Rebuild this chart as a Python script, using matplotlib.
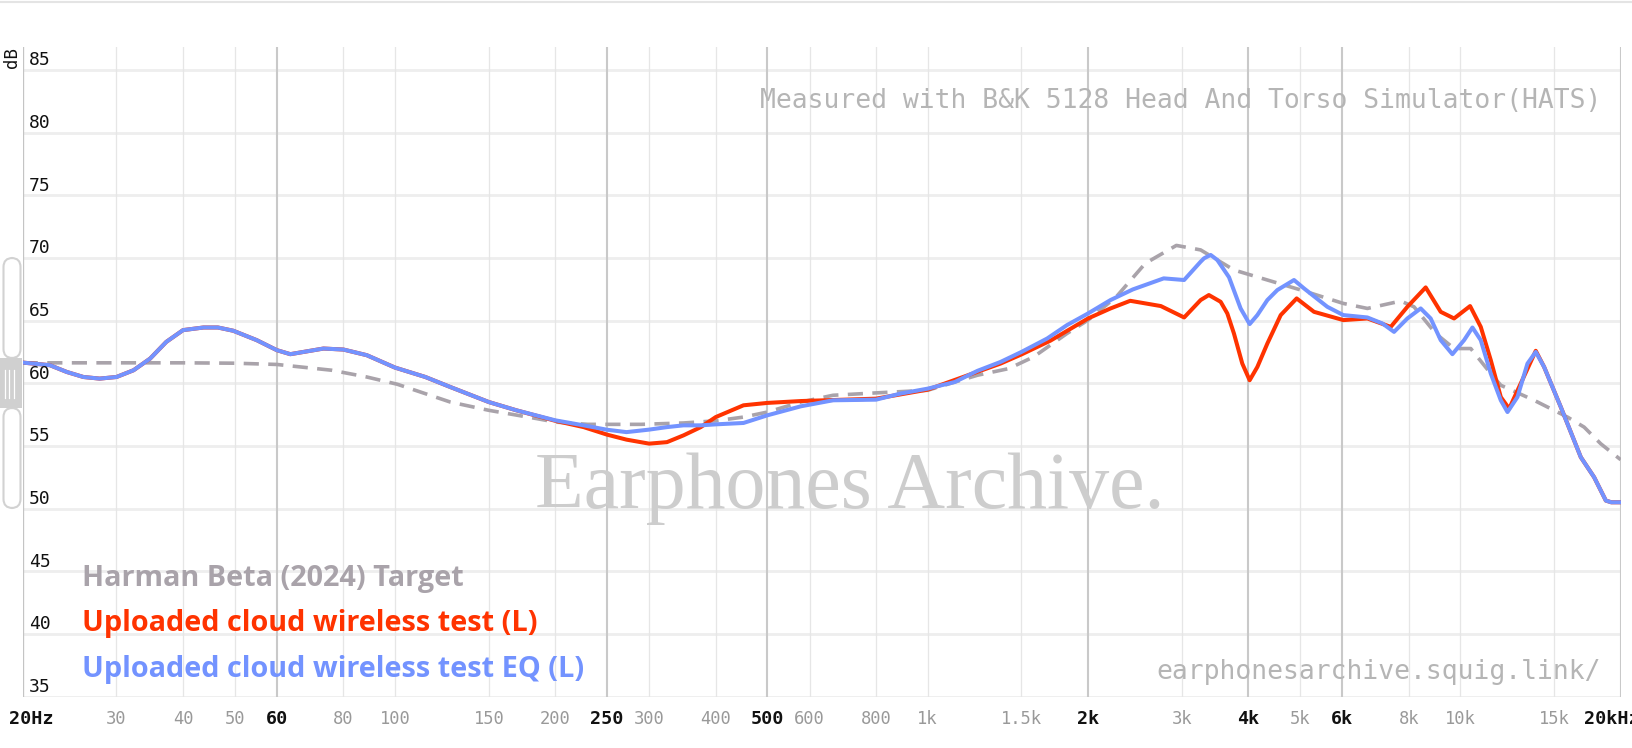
import matplotlib
matplotlib.use("Agg")
import matplotlib.pyplot as plt
import matplotlib.transforms as mtransforms
from matplotlib.patches import FancyBboxPatch, Rectangle
from matplotlib.lines import Line2D

W, H, DPI = 1633, 748, 100

# Harman Beta (2024) target
target_hz = [20, 30, 40, 50, 60, 76, 88.5, 101, 127, 150, 185, 200, 230, 290, 348, 400,
             451, 500, 578, 664, 800, 1000, 1240, 1420, 1580, 1826, 2000, 2260, 2562, 2930,
             3254, 3758, 4342, 5020, 6030, 6691, 7728, 8185, 8990, 9732, 10460, 11406,
             11910, 13754, 15888, 17075, 18348, 19726, 20000]
target_db = [61.63, 61.63, 61.63, 61.6, 61.5, 61.04, 60.5, 59.92, 58.5, 57.84, 57.17, 56.9,
             56.72, 56.72, 56.83, 57.0, 57.3, 57.7, 58.5, 59.04, 59.23, 59.44, 60.64, 61.17,
             62.1, 63.97, 65.04, 66.9, 69.57, 71.0, 70.64, 69.04, 68.24, 67.44, 66.37, 65.97,
             66.56, 66.1, 63.97, 62.77, 62.77, 60.77, 59.84, 58.64, 57.3, 56.5, 55.17, 54.1, 53.9]

# both measurements overlap below ~170 Hz
shared_hz = [20, 22.5, 24.2, 26, 27.9, 30, 32.3, 34.7, 37.2, 40, 43.7, 46.5, 49.7, 55, 60,
             63.6, 73.4, 80, 88.5, 100, 114, 127, 150, 169]
shared_db = [61.65, 61.44, 60.9, 60.5, 60.37, 60.5, 61.04, 61.97, 63.3, 64.24, 64.45, 64.45,
             64.19, 63.44, 62.64, 62.32, 62.77, 62.69, 62.24, 61.25, 60.5, 59.7, 58.5, 57.84]

# Uploaded cloud wireless test (L)
raw_hz = [200, 226, 250, 272, 300, 324, 348, 375, 400, 451, 500, 578, 800, 1000, 1370, 1500,
          1700, 2000, 2204, 2400, 2740, 3030, 3254, 3372, 3548, 3652, 3758, 3896, 4022, 4158,
          4342, 4600, 4928, 5312, 6030, 6691, 7402, 7953, 8608, 9186, 9732, 10430, 10922,
          11406, 11910, 12348, 12892, 13854, 14364, 15438, 16832, 17830, 18754, 19200, 20000]
raw_db = [57.0, 56.5, 55.9, 55.5, 55.18, 55.3, 55.84, 56.5, 57.3, 58.24, 58.43, 58.58, 58.77,
          59.49, 61.57, 62.3, 63.4, 65.17, 65.97, 66.58, 66.16, 65.25, 66.64, 67.04, 66.5,
          65.57, 63.97, 61.57, 60.24, 61.3, 63.17, 65.44, 66.77, 65.7, 65.04, 65.17, 64.5,
          66.1, 67.65, 65.7, 65.17, 66.16, 64.5, 61.84, 58.9, 57.97, 59.7, 62.59, 61.3, 58.1,
          54.1, 52.5, 50.64, 50.5, 50.5]

# Uploaded cloud wireless test EQ (L)
eq_hz = [200, 226, 250, 272, 300, 324, 348, 375, 400, 451, 500, 578, 664, 800, 888, 1000,
         1124, 1240, 1370, 1500, 1676, 1826, 2000, 2204, 2428, 2774, 3030, 3254, 3302, 3398,
         3497, 3679, 3868, 4022, 4158, 4342, 4534, 4872, 5087, 5627, 6030, 6691, 7140, 7508,
         7953, 8424, 8796, 9186, 9662, 10163, 10536, 10922, 11406, 11910, 12260, 12800,
         13366, 13854, 14364, 15438, 16832, 17830, 18754, 19200, 20000]
eq_db = [57.04, 56.64, 56.29, 56.1, 56.3, 56.5, 56.64, 56.64, 56.72, 56.83, 57.44, 58.16,
         58.64, 58.69, 59.17, 59.57, 60.1, 60.99, 61.7, 62.5, 63.57, 64.64, 65.57, 66.64,
         67.49, 68.37, 68.24, 69.7, 69.97, 70.24, 69.84, 68.46, 65.97, 64.72, 65.44, 66.64,
         67.44, 68.24, 67.57, 66.1, 65.44, 65.25, 64.77, 64.10, 65.17, 65.97, 65.17, 63.44,
         62.32, 63.44, 64.45, 63.44, 60.77, 58.64, 57.7, 58.9, 61.57, 62.5, 61.3, 58.1, 54.1,
         52.5, 50.64, 50.5, 50.5]

y_ticks = [35, 40, 45, 50, 55, 60, 65, 70, 75, 80, 85]
x_grid = [20, 30, 40, 50, 60, 80, 100, 150, 200, 250, 300, 400, 500, 600, 800, 1000, 1500,
          2000, 3000, 4000, 5000, 6000, 8000, 10000, 15000, 20000]
x_labels = ["20Hz", "30", "40", "50", "60", "80", "100", "150", "200", "250", "300", "400",
            "500", "600", "800", "1k", "1.5k", "2k", "3k", "4k", "5k", "6k", "8k", "10k",
            "15k", "20kHz"]
x_strong = [20, 60, 250, 500, 2000, 4000, 6000, 20000]

legend_names = ["Harman Beta (2024) Target", "Uploaded cloud wireless test (L)",
                "Uploaded cloud wireless test EQ (L)"]
c_target, c_raw, c_eq = "#a9a3aa", "#ff3300", "#7393ff"

fig = plt.figure(figsize=(W / DPI, H / DPI), dpi=DPI)
fig.patch.set_facecolor("white")

# plot area in pixels
left, right, top, bottom = 22.7, 1620.7, 47, 696.5
ax = fig.add_axes([left / W, 1 - bottom / H, (right - left) / W, (bottom - top) / H])
ax.set_xscale("log")
ax.set_xlim(20, 20000)
ax.set_ylim(35, 35 + (bottom - top) / 12.53)
ax.axis("off")

# pixel transform (origin top-left)
pix = mtransforms.Affine2D().scale(1 / W, -1 / H).translate(0, 1) + fig.transFigure

# grid
for v in y_ticks:
    ax.axhline(v, color="#eeeeee", lw=2.0, zorder=0.5)
for f in x_grid:
    if f in x_strong:
        ax.axvline(f, color="#c9c9c9", lw=1.5, zorder=0.6)
    else:
        ax.axvline(f, color="#e6e6e6", lw=0.9, zorder=0.6)

# watermark and captions
ax.text(535, 508, "Earphones Archive.", transform=pix, family="Liberation Serif",
        size=57.5, color="#cdcdcd", va="baseline", ha="left", zorder=1, clip_on=False)
ax.text(1601, 108, "Measured with B&K 5128 Head And Torso Simulator(HATS)", transform=pix,
        family="DejaVu Sans Mono", size=19, color="#b5b5b5", va="baseline", ha="right",
        zorder=1, clip_on=False)
ax.text(1601, 679, "earphonesarchive.squig.link/", transform=pix,
        family="DejaVu Sans Mono", size=19, color="#b5b5b5", va="baseline", ha="right",
        zorder=1, clip_on=False)

# curves
ax.plot(target_hz, target_db, color=c_target, lw=2.6, dashes=(4.2, 2.6), zorder=3)
ax.plot(shared_hz + raw_hz, shared_db + raw_db, color=c_raw, lw=2.9,
        solid_joinstyle="round", solid_capstyle="round", zorder=4)
ax.plot(shared_hz + eq_hz, shared_db + eq_db, color=c_eq, lw=2.9,
        solid_joinstyle="round", solid_capstyle="round", zorder=5)

# y tick labels (above their gridlines)
ylab_trans = mtransforms.offset_copy(
    mtransforms.blended_transform_factory(ax.transAxes, ax.transData),
    fig=fig, x=0, y=9.5, units="dots")
for v in y_ticks:
    ax.text((29 - left) / (right - left), v, str(v), transform=ylab_trans,
            family="DejaVu Sans Mono", size=13, color="#111111", va="center", ha="left",
            zorder=6, clip_on=False)

# x tick labels
for f, lbl in zip(x_grid, x_labels):
    dx = 8.6 if f == 20 else (-9.0 if f == 20000 else 0)
    tr = mtransforms.offset_copy(ax.get_xaxis_transform(), fig=fig, x=dx, y=-22.5, units="dots")
    strong = f in x_strong
    ax.text(f, 0, lbl, transform=tr, family="DejaVu Sans Mono",
            size=13.2 if strong else 12.3,
            weight="bold" if strong else "normal",
            color="#111111" if strong else "#999999", ha="center", va="center", clip_on=False)

# left axis line
ax.axvline(20, color="#c4c4c4", lw=1.6, zorder=0.7)

# dB label
fig.text(12.5 / W, 1 - 57.5 / H, "dB", family="DejaVu Sans Mono", size=12.5,
         color="#111111", rotation=90, ha="center", va="center")

# legend names
for i, (name, col) in enumerate(zip(legend_names, [c_target, c_raw, c_eq])):
    fig.text(82 / W, 1 - (586 + 45.4 * i) / H, name, family="Open Sans", weight="bold",
             size=20.8, color=col, ha="left", va="baseline")

# top border
fig.add_artist(Line2D([0, 1], [1 - 2 / H, 1 - 2 / H], color="#e4e4e4", lw=1.5))

# drag handle on the left edge
for y0, y1 in [(258, 358), (408, 508)]:
    fig.add_artist(FancyBboxPatch((3.5, y0), 17, y1 - y0, transform=pix,
                                  boxstyle="round,pad=0,rounding_size=9",
                                  fc="none", ec="#d2d2d2", lw=1.5))
fig.add_artist(Rectangle((0, 358), 22, 50, transform=pix, fc="#d0d0d0", ec="none"))
for gx in [5, 9.5, 14]:
    fig.add_artist(Line2D([gx / W, gx / W], [1 - 370 / H, 1 - 398 / H], color="white", lw=0.9))

fig.savefig("out.png", dpi=DPI, facecolor="white")
